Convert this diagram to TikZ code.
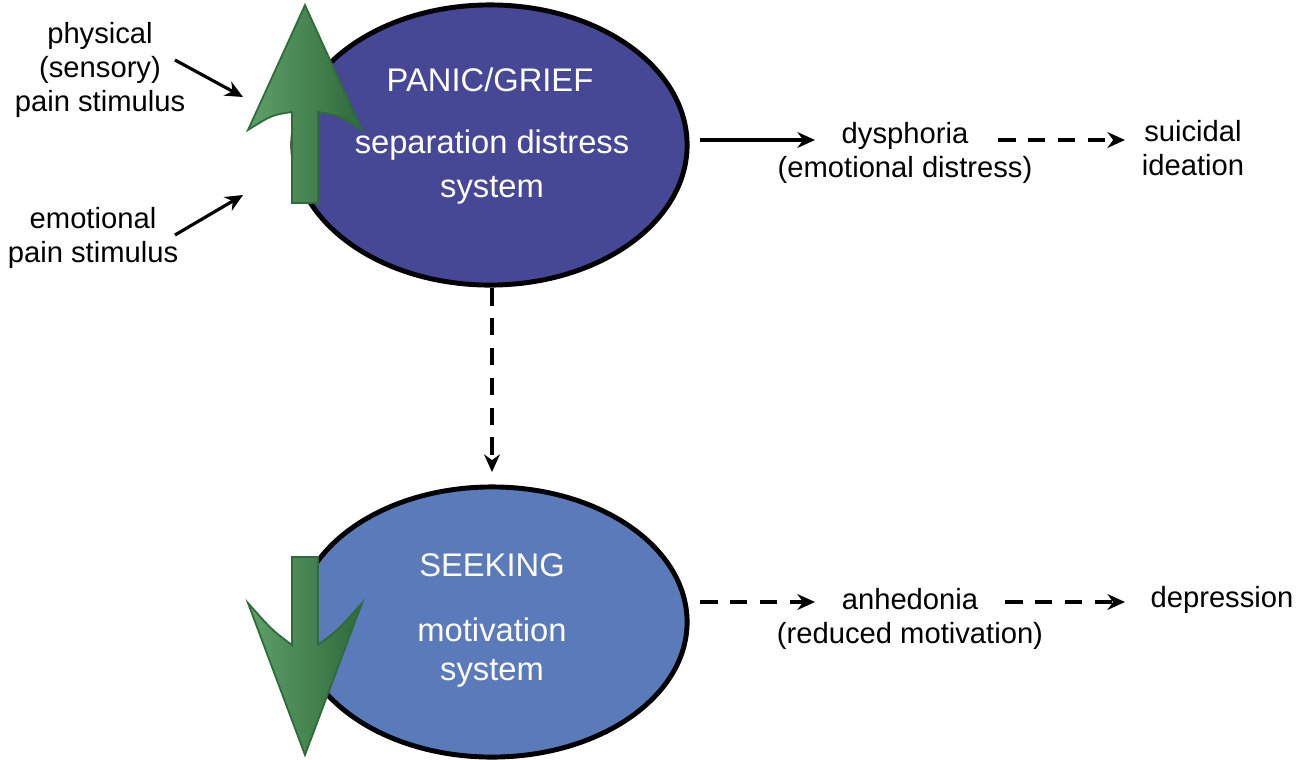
\documentclass[tikz,border=0pt]{standalone}
\usepackage{fontspec}
\setmainfont{Liberation Sans}
\usetikzlibrary{arrows.meta,shapes.geometric}
\definecolor{panic}{HTML}{464896}
\definecolor{seek}{HTML}{5A7ABA}
\definecolor{gdark}{HTML}{2F6A3A}
\definecolor{glight}{HTML}{5FA06A}
\begin{document}
\begin{tikzpicture}[x=0.01cm,y=-0.01cm,
  lbl/.style={font=\fontsize{8.3}{9.6}\selectfont,align=center,inner sep=0},
  inl/.style={font=\fontsize{9.3}{11}\selectfont,text=white,align=center,inner sep=0},
  ell/.style={ellipse,draw=black,line width=1.4pt,inner sep=0},
  arr/.style={line width=0.9pt,-{Stealth[length=5pt,width=4.5pt]}},
  darr/.style={arr,dash pattern=on 5pt off 3.5pt},
  garrow/.style={draw=gdark,line width=0.5pt,left color=glight,right color=gdark}]
\useasboundingbox (0,0) rectangle (1308,760);
\node[ell,fill=panic,minimum width=3.94cm,minimum height=2.8cm] (top) at (490,145) {};
\node[ell,fill=seek,minimum width=3.9cm,minimum height=2.7cm] (bot) at (492,622) {};
\path[garrow] (292,203)--(292,112) .. controls (272,115) .. (248,130) -- (305,5) -- (362,130) .. controls (338,115) .. (318,112) -- (318,203) -- cycle;
\path[garrow] (292,557)--(292,645) .. controls (272,630) .. (248,603) -- (305,755) -- (362,603) .. controls (338,630) .. (318,645) -- (318,557) -- cycle;
\node[inl] (p1) at (490,80) {PANIC/GRIEF};
\node[inl] (p2) at (492,145) {separation distress};
\node[inl] (p3) at (492,190) {system};
\node[inl] (s1) at (492,565) {SEEKING};
\node[inl] (s2) at (492,630) {motivation};
\node[inl] (s3) at (492,673) {system};
\node[lbl] (phys) at (100,70) {physical\\(sensory)\\pain stimulus};
\node[lbl] (emo) at (93,238) {emotional\\pain stimulus};
\node[lbl] (dys) at (905,153) {dysphoria\\(emotional distress)};
\node[lbl] (sui) at (1193,148) {suicidal\\ideation};
\node[lbl] (anh) at (910,619) {anhedonia\\(reduced motivation)};
\node[lbl] (dep) at (1222,600) {depression};
\coordinate (a1) at (175,60); \coordinate (a2) at (243,97);
\coordinate (b1) at (175,235); \coordinate (b2) at (243,195);
\coordinate (c1) at (700,140); \coordinate (c2) at (815,140);
\coordinate (d1) at (998,140); \coordinate (d2) at (1125,140);
\coordinate (e1) at (492,288); \coordinate (e2) at (492,472);
\coordinate (f1) at (700,602); \coordinate (f2) at (815,602);
\coordinate (g1) at (1005,602); \coordinate (g2) at (1125,602);
\draw[arr] (a1)--(a2);
\draw[arr] (b1)--(b2);
\draw[arr] (c1)--(c2);
\draw[darr] (d1)--(d2);
\draw[darr] (e1)--(e2);
\draw[darr] (f1)--(f2);
\draw[darr] (g1)--(g2);
\end{tikzpicture}
\end{document}
